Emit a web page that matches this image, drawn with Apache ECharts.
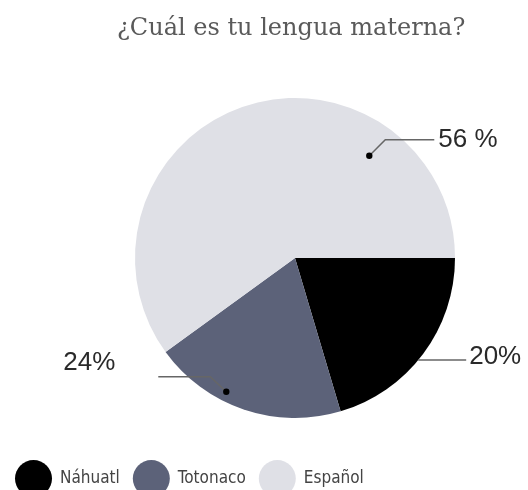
<!DOCTYPE html>
<html><head><meta charset="utf-8">
<script src="https://cdn.jsdelivr.net/npm/echarts@6/dist/echarts.min.js"></script>
<style>html,body{margin:0;padding:0;background:#fff}#c{width:528px;height:490px}</style>
</head><body><div id="c"></div>
<script>
// Data (slice shares as drawn in the picture; label texts as printed)
const categories = ['Náhuatl', 'Totonaco', 'Español'];
const sliceValues = [20.4, 19.6, 60];
const labelTexts = ['20%', '24%', '56 %'];
const titleText = '¿Cuál es tu lengua materna?';

const colors = ['#000000', '#5c6279', '#dfe0e6'];

const chart = echarts.init(document.getElementById('c'), null, {renderer: 'canvas'});
const option = {
  animation: false,
  backgroundColor: '#ffffff',
  color: colors,
  title: {
    text: titleText,
    left: 112, top: 12,
    textStyle: {fontFamily: "'DejaVu Serif', 'Liberation Serif', serif", fontSize: 24, fontWeight: 'normal', color: '#5a5a5a'}
  },
  legend: {
    left: 10, top: 455,
    icon: 'circle', itemWidth: 37, itemHeight: 37, itemGap: 13,
    selectedMode: false,
    textStyle: {fontFamily: "'Liberation Sans Narrow', 'DejaVu Sans Condensed', 'Liberation Sans', sans-serif", fontSize: 17, color: '#444', padding: [0, 0, 0, 3]},
    data: categories
  },
  series: [{
    type: 'pie',
    center: [295, 258],
    radius: 160,
    startAngle: 0,
    clockwise: true,
    label: {show: false},
    labelLine: {show: false},
    emphasis: {disabled: true},
    data: categories.map((c, i) => ({name: c, value: sliceValues[i]}))
  }]
};
chart.setOption(option);

// Annotation styling (positions relative to each slice's computed layout)
const annot = [
  {t: 0.54, rf: 1.0, dot: false, elbow: [0, 0], run: 48, textDx: 3, textDy: -3, align: 'left'},
  {t: 0.62, rf: 0.94, dot: true, elbow: [-16, -15], run: -52, textDx: -43, textDy: -14, align: 'right'},
  {t: 0.75, rf: 0.79, dot: true, elbow: [16, -16], run: 49, textDx: 4, textDy: 0, align: 'left'}
];
const data = chart.getModel().getSeriesByIndex(0).getData();
const graphics = [];
for (let i = 0; i < categories.length; i++) {
  const L = data.getItemLayout(i);
  const a = annot[i];
  const ang = L.startAngle + (L.endAngle - L.startAngle) * a.t;
  const px = L.cx + L.r * a.rf * Math.cos(ang);
  const py = L.cy + L.r * a.rf * Math.sin(ang);
  const ex = px + a.elbow[0], ey = py + a.elbow[1];
  const hx = ex + a.run;
  graphics.push({type: 'polyline', silent: true, z: 10,
    shape: {points: [[px, py], [ex, ey], [hx, ey]]},
    style: {stroke: '#666', lineWidth: 1.5, fill: null}});
  if (a.dot) graphics.push({type: 'circle', silent: true, z: 11,
    shape: {cx: px, cy: py, r: 3.2}, style: {fill: '#000'}});
  graphics.push({type: 'text', silent: true, z: 12,
    x: hx + a.textDx, y: ey + a.textDy,
    style: {text: labelTexts[i], fontFamily: 'Liberation Sans', fontSize: 26,
      fill: '#2a2a2a', align: a.align, verticalAlign: 'middle'}});
}
chart.setOption({graphic: graphics});
</script></body></html>
